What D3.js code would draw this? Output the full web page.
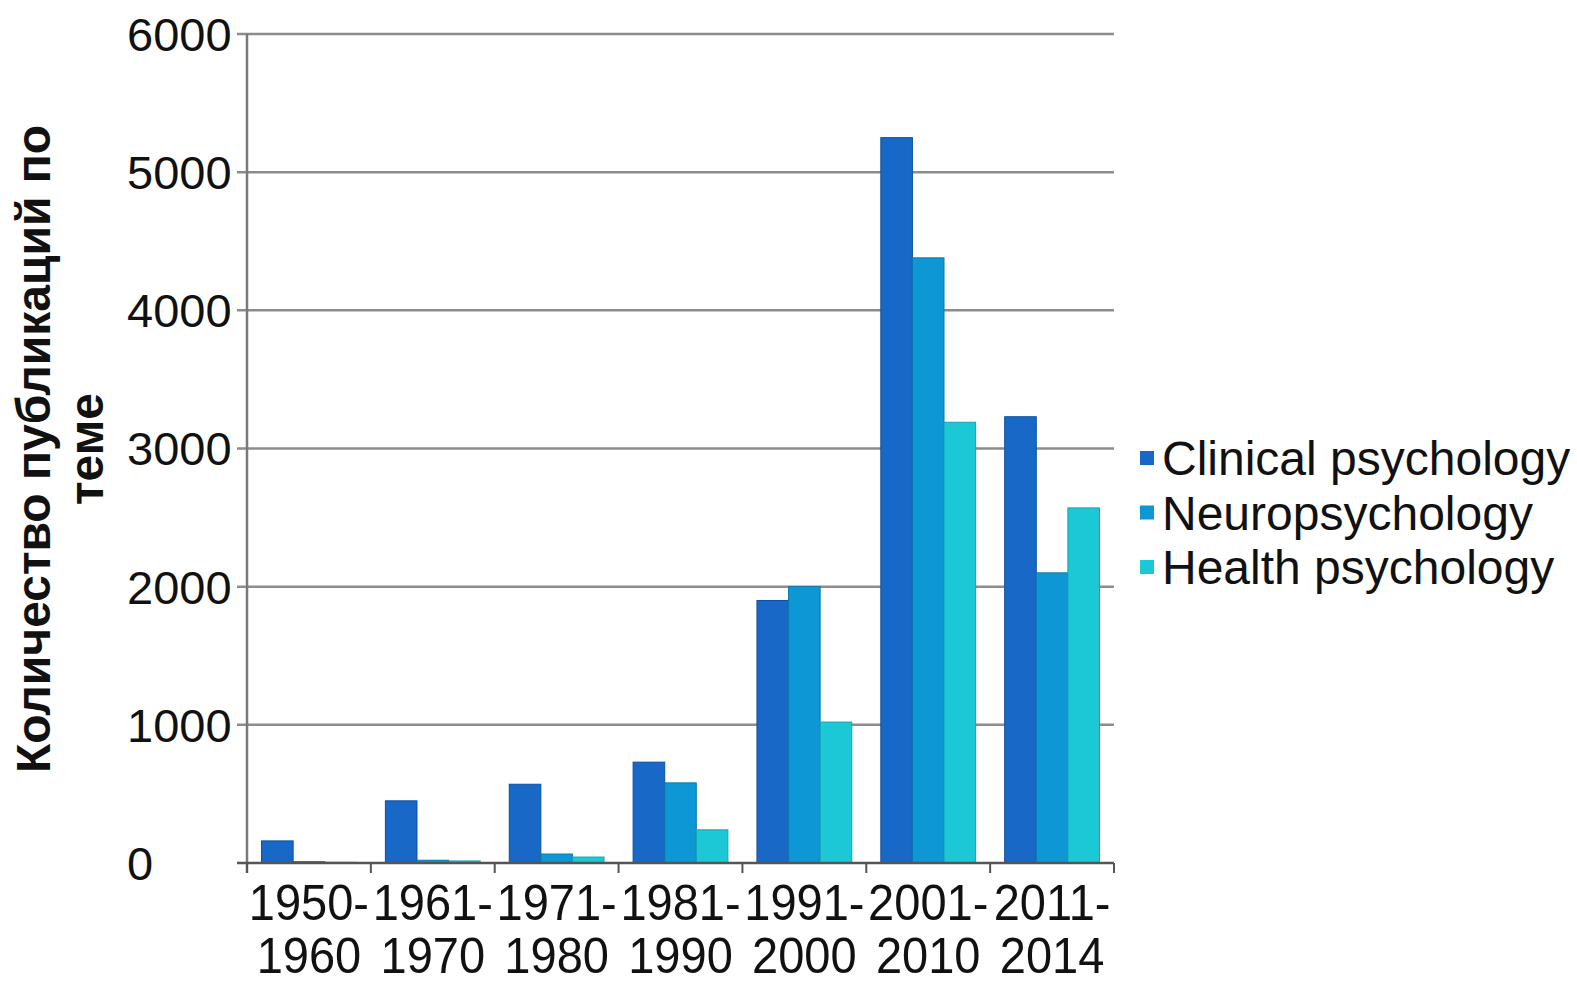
<!DOCTYPE html>
<html>
<head>
<meta charset="utf-8">
<script src="https://cdn.jsdelivr.net/npm/d3@7/dist/d3.min.js"></script>
<style>
  html, body { margin: 0; padding: 0; background: #ffffff; }
  svg { display: block; font-family: "Liberation Sans", Arial, sans-serif; }
</style>
</head>
<body>
<svg id="chart" width="1577" height="982"></svg>
<script>
// Publication counts per decade for three fields of psychology
const periodStart = ["1950-", "1961-", "1971-", "1981-", "1991-", "2001-", "2011-"];
const periodEnd   = ["1960", "1970", "1980", "1990", "2000", "2010", "2014"];
const seriesNames = ["Clinical psychology", "Neuropsychology", "Health psychology"];
const clinical = [160, 450, 570, 730, 1900, 5250, 3230];
const neuro    = [10, 20, 65, 580, 2000, 4380, 2100];
const health   = [5, 15, 43, 240, 1020, 3190, 2570];
const yTicks   = [0, 1000, 2000, 3000, 4000, 5000, 6000];
const colors   = ["#1868c8", "#0d97d5", "#1cc8d6"];
const strokes  = ["#0f4f9e", "#0a78ad", "#14a3ae"];

const values = [clinical, neuro, health];
const svg = d3.select("#chart");

const plotLeft = 247, plotRight = 1114, plotTop = 34, plotBottom = 863;

const x0 = d3.scaleBand().domain(d3.range(periodStart.length)).range([plotLeft, plotRight]).padding(0);
const x1 = d3.scaleBand().domain(d3.range(seriesNames.length))
  .range([0, x0.bandwidth()]).paddingOuter(0.46).paddingInner(0);
const y = d3.scaleLinear().domain([0, 6000]).range([plotBottom, plotTop]);

// horizontal gridlines (extend left past the axis as tick marks)
svg.append("g").selectAll("line").data(yTicks.slice(1)).join("line")
  .attr("x1", plotLeft - 10).attr("x2", plotRight)
  .attr("y1", d => y(d)).attr("y2", d => y(d))
  .attr("stroke", "#8c8c8c").attr("stroke-width", 2.5);

// bars
const groups = svg.append("g").selectAll("g").data(d3.range(periodStart.length)).join("g")
  .attr("transform", i => `translate(${x0(i)},0)`);
groups.selectAll("rect")
  .data(i => values.map((s, k) => ({ k, v: s[i] })))
  .join("rect")
  .attr("x", d => x1(d.k))
  .attr("width", x1.bandwidth())
  .attr("y", d => y(d.v))
  .attr("height", d => plotBottom - y(d.v))
  .attr("fill", d => colors[d.k])
  .attr("stroke", d => strokes[d.k])
  .attr("stroke-width", 1);

// y axis line
svg.append("line").attr("x1", plotLeft).attr("x2", plotLeft)
  .attr("y1", plotTop).attr("y2", plotBottom + 10)
  .attr("stroke", "#7a7a7a").attr("stroke-width", 2.5);

// x axis baseline and ticks at category boundaries
svg.append("line").attr("x1", plotLeft - 10).attr("x2", plotRight)
  .attr("y1", plotBottom).attr("y2", plotBottom)
  .attr("stroke", "#555").attr("stroke-width", 2.5);
const bounds = d3.range(periodStart.length + 1).map(i => i < periodStart.length ? x0(i) : plotRight);
svg.append("g").selectAll("line").data(bounds).join("line")
  .attr("x1", d => d).attr("x2", d => d)
  .attr("y1", plotBottom).attr("y2", plotBottom + 10)
  .attr("stroke", "#555").attr("stroke-width", 2);

// y tick labels (left aligned)
svg.append("g").selectAll("text").data(yTicks).join("text")
  .attr("x", 127).attr("y", d => y(d))
  .attr("dy", "0.36em")
  .attr("font-size", 47).attr("fill", "#111")
  .text(d => d);

// x tick labels (two lines, slightly tall type)
const xl = svg.append("g").selectAll("text").data(d3.range(periodStart.length)).join("text")
  .attr("text-anchor", "middle")
  .attr("font-size", 47).attr("fill", "#111")
  .attr("transform", i => `translate(${x0(i) + x0.bandwidth() / 2},920) scale(1,1.06)`);
xl.append("tspan").attr("x", 0).attr("y", 0).text(i => periodStart[i]);
xl.append("tspan").attr("x", 0).attr("y", 50).text(i => periodEnd[i]);

// y axis title
const yt = svg.append("text")
  .attr("transform", "translate(0,449) rotate(-90)")
  .attr("text-anchor", "middle")
  .attr("font-size", 48).attr("font-weight", "bold").attr("fill", "#111");
yt.append("tspan").attr("x", 0).attr("y", 50).text("Количество публикаций по");
yt.append("tspan").attr("x", 0).attr("y", 103).text("теме");

// legend
const lg = svg.append("g").selectAll("g").data(seriesNames).join("g")
  .attr("transform", (d, i) => `translate(1140,${458 + i * 54.5})`);
lg.append("rect").attr("x", 0).attr("y", -7).attr("width", 14).attr("height", 14)
  .attr("fill", (d, i) => colors[i]);
lg.append("text").attr("x", 22).attr("dy", "0.36em")
  .attr("font-size", 48).attr("fill", "#111")
  .text(d => d);
</script>
</body>
</html>
